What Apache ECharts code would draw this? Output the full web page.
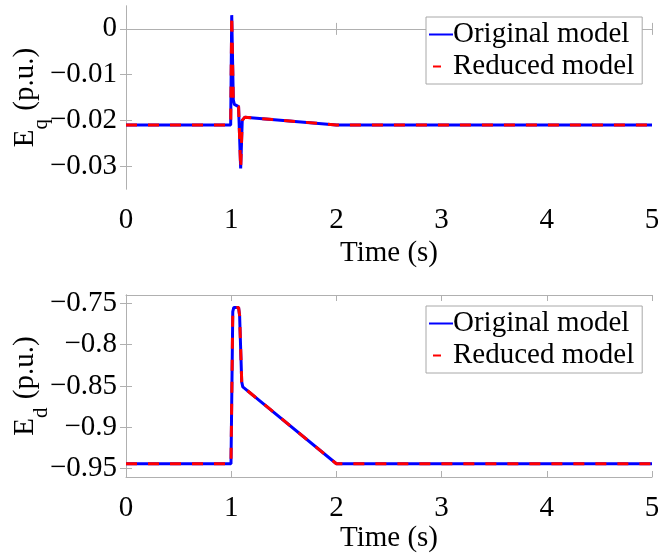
<!DOCTYPE html>
<html>
<head>
<meta charset="utf-8">
<script src="https://cdn.jsdelivr.net/npm/echarts@6/dist/echarts.min.js"></script>
<style>
html,body{margin:0;padding:0;background:#fff;}
#chart{width:658px;height:555px;}
</style>
</head>
<body>
<div id="chart"></div>
<script>
// ---- Data ----
var timeTicks = [0, 1, 2, 3, 4, 5];
var eqTicks = [-0.03, -0.02, -0.01, 0];
var edTicks = [-0.95, -0.9, -0.85, -0.8, -0.75];

var eqTime        = [0, 0.995, 1.005, 1.02, 1.03, 1.07, 1.08, 1.09, 1.105, 1.13, 2.0, 5];
var eqOriginal    = [-0.021, -0.021, 0.003, -0.0155, -0.0165, -0.017, -0.0172, -0.0305, -0.020, -0.0193, -0.021, -0.021];
var eqReduced     = [-0.021, -0.021, 0.003, -0.0155, -0.0165, -0.017, -0.0172, -0.0305, -0.020, -0.0193, -0.021, -0.021];

var edTime        = [0, 0.998, 1.015, 1.025, 1.07, 1.08, 1.1, 1.11, 2.0, 5];
var edOriginal    = [-0.944, -0.944, -0.76, -0.755, -0.755, -0.765, -0.845, -0.851, -0.944, -0.944];
var edReduced     = [-0.944, -0.944, -0.76, -0.755, -0.755, -0.765, -0.845, -0.851, -0.944, -0.944];

var seriesNames = ['Original model', 'Reduced model'];

function pairs(t, v) { return t.map(function (x, i) { return [x, v[i]]; }); }

var FONT = 'Liberation Serif';
var FS = 29;
var FRAME = '#b0b0b0';

function xAxes(gridIndex, gap) {
  return [{
    type: 'value', gridIndex: gridIndex, min: 0, max: 5, interval: 1, position: 'bottom',
    name: 'Time (s)', nameLocation: 'middle', nameGap: gap,
    nameTextStyle: { fontFamily: FONT, fontSize: FS, color: '#000' },
    axisLine: { show: true, lineStyle: { color: FRAME, width: 1 } },
    axisTick: { show: true, inside: true, length: 6, lineStyle: { color: FRAME } },
    axisLabel: { fontFamily: FONT, fontSize: FS, color: '#000', margin: 17 },
    splitLine: { show: false }
  }, {
    type: 'value', gridIndex: gridIndex, min: 0, max: 5, interval: 1, position: 'top',
    axisLine: { show: true, lineStyle: { color: FRAME, width: 1 } },
    axisTick: { show: true, inside: true, length: 6, lineStyle: { color: FRAME } },
    axisLabel: { show: false }, splitLine: { show: false }
  }];
}

function yAxes(gridIndex, min, max, ticks, nameRich) {
  return [{
    type: 'value', gridIndex: gridIndex, min: min, max: max, position: 'left',
    name: nameRich, nameLocation: 'middle', nameGap: 85, nameRotate: 90,
    nameMoveOverlap: false,
    nameTextStyle: {
      fontFamily: FONT, fontSize: FS, color: '#000',
      rich: {
        e: { fontFamily: FONT, fontSize: FS, color: '#000', lineHeight: 30, verticalAlign: 'top' },
        s: { fontFamily: FONT, fontSize: 21, color: '#000', lineHeight: 21, padding: [20, 1, 0, 0], verticalAlign: 'top' }
      }
    },
    axisLine: { show: true, lineStyle: { color: FRAME, width: 1 } },
    axisTick: { show: true, inside: true, length: 6, lineStyle: { color: FRAME }, customValues: ticks },
    axisLabel: { fontFamily: FONT, fontSize: FS, color: '#000', margin: 9, customValues: ticks,
      formatter: function (v) { return v === 0 ? '0' : String(v).replace('-', '\u2212'); } },
    splitLine: { show: false }
  }, {
    type: 'value', gridIndex: gridIndex, min: min, max: max, position: 'right',
    axisLine: { show: true, lineStyle: { color: FRAME, width: 1 } },
    axisTick: { show: true, inside: true, length: 6, lineStyle: { color: FRAME }, customValues: ticks },
    axisLabel: { show: false, customValues: ticks }, splitLine: { show: false }
  }];
}

function legendFor(top) {
  return {
    data: [
      { name: seriesNames[0] },
      { name: seriesNames[1], lineStyle: { type: [0, 4, 8, 100] } }
    ],
    orient: 'vertical',
    left: 426, top: top,
    itemWidth: 24, itemHeight: 14, itemGap: 3,
    padding: [3, 8, 3, 2],
    borderColor: '#a8a8a8', borderWidth: 1, backgroundColor: '#fff',
    itemStyle: { opacity: 0 },
    textStyle: { fontFamily: FONT, fontSize: FS, color: '#000', padding: [0, 0, 0, -5] }
  };
}

var blue = '#0000ff', red = '#ff0000';
function lineSeries(name, data, xi, yi, color, dashed) {
  return {
    type: 'line', name: name, data: data, xAxisIndex: xi, yAxisIndex: yi,
    symbol: 'none', showSymbol: false, animation: false, z: dashed ? 3 : 2,
    lineStyle: { color: color, width: 3, type: dashed ? [11, 11] : 'solid' },
    itemStyle: { color: color }
  };
}

var option = {
  animation: false,
  backgroundColor: '#fff',
  grid: [
    { left: 126, top: 6, width: 526, height: 183, outerBoundsMode: 'none', containLabel: false },
    { left: 126, top: 295, width: 526, height: 182, outerBoundsMode: 'none', containLabel: false }
  ],
  xAxis: xAxes(0, 50).concat(xAxes(1, 47)),
  yAxis: yAxes(0, -0.035, 0.005, eqTicks, '{e|E}{s|q}{e| (p.u.)}')
    .concat(yAxes(1, -0.96, -0.74, edTicks, '{e|E}{s|d}{e| (p.u.)}')),
  legend: [legendFor(17), legendFor(306)],
  series: [
    lineSeries(seriesNames[0], pairs(eqTime, eqOriginal), 0, 0, blue, false),
    lineSeries(seriesNames[1], pairs(eqTime, eqReduced), 0, 0, red, true),
    lineSeries(seriesNames[0], pairs(edTime, edOriginal), 2, 2, blue, false),
    lineSeries(seriesNames[1], pairs(edTime, edReduced), 2, 2, red, true)
  ]
};

var chart = echarts.init(document.getElementById('chart'), null, { renderer: 'canvas' });
chart.setOption(option);
</script>
</body>
</html>
